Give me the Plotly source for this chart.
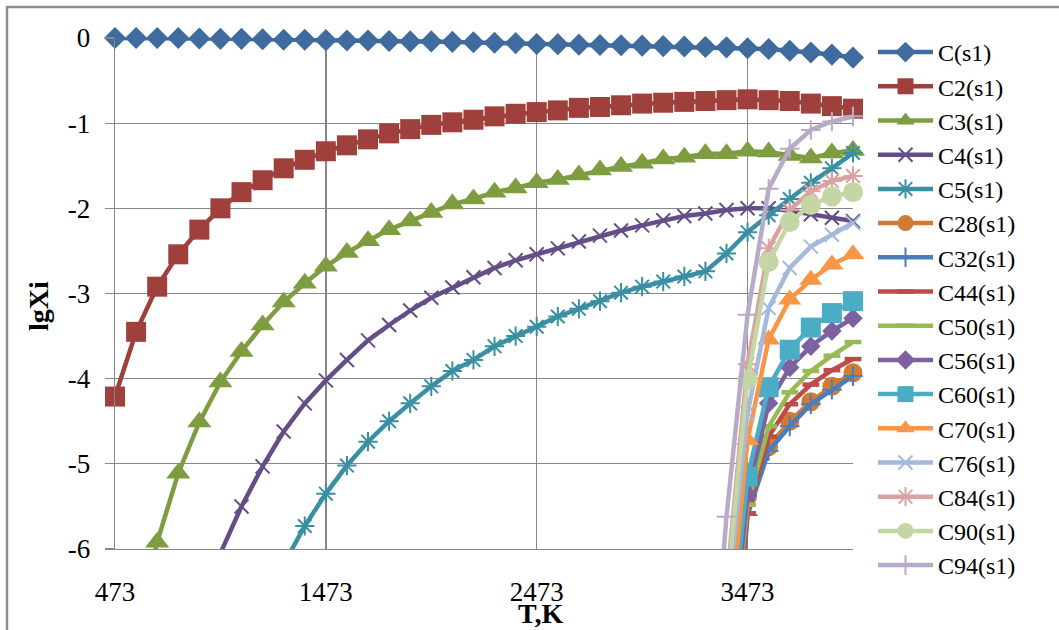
import plotly.graph_objects as go

# ---------------- data ----------------
T = [473, 573, 673, 773, 873, 973, 1073, 1173, 1273, 1373, 1473, 1573,
     1673, 1773, 1873, 1973, 2073, 2173, 2273, 2373, 2473, 2573, 2673, 2773,
     2873, 2973, 3073, 3173, 3273, 3373, 3473, 3573, 3673, 3773, 3873, 3973]

x_tick_vals = [473, 1473, 2473, 3473]
x_tick_text = ["473", "1473", "2473", "3473"]
y_tick_vals = [0, -1, -2, -3, -4, -5, -6]
y_tick_text = ["0", "-1", "-2", "-3", "-4", "-5", "-6"]

C_s1 = [0, 0, 0, 0, -0.005, -0.01, -0.01, -0.015, -0.02, -0.02, -0.025, -0.03,
        -0.03, -0.035, -0.04, -0.04, -0.045, -0.05, -0.055, -0.06, -0.07, -0.072,
        -0.078, -0.082, -0.086, -0.09, -0.095, -0.1, -0.105, -0.11, -0.12, -0.13,
        -0.15, -0.17, -0.195, -0.23]
C2 = [-4.21, -3.45, -2.92, -2.54, -2.25, -2.0, -1.81, -1.67, -1.53, -1.43, -1.33, -1.26,
      -1.19, -1.12, -1.07, -1.02, -0.99, -0.96, -0.92, -0.89, -0.87, -0.85, -0.82, -0.81,
      -0.79, -0.77, -0.76, -0.75, -0.74, -0.73, -0.72, -0.73, -0.74, -0.77, -0.80, -0.83]
C3 = [-8.2, -6.9, -5.92, -5.11, -4.51, -4.04, -3.68, -3.37, -3.10, -2.88, -2.68, -2.52,
      -2.38, -2.25, -2.15, -2.05, -1.95, -1.89, -1.81, -1.76, -1.70, -1.66, -1.61, -1.55,
      -1.51, -1.47, -1.42, -1.40, -1.36, -1.36, -1.33, -1.34, -1.38, -1.41, -1.35, -1.32]
C4 = [-10.5, -9.3, -8.3, -7.45, -6.7, -6.05, -5.5, -5.03, -4.62, -4.29, -4.02, -3.78,
      -3.55, -3.37, -3.20, -3.05, -2.93, -2.81, -2.70, -2.61, -2.54, -2.47, -2.39, -2.32,
      -2.26, -2.20, -2.14, -2.09, -2.06, -2.02, -2.00, -2.00, -2.03, -2.07, -2.11, -2.15]
C5 = [-13.5, -12.0, -10.8, -9.7, -8.8, -8.0, -7.3, -6.7, -6.18, -5.73, -5.35, -5.02,
      -4.74, -4.50, -4.29, -4.09, -3.91, -3.78, -3.62, -3.50, -3.39, -3.27, -3.18, -3.09,
      -2.99, -2.92, -2.86, -2.80, -2.74, -2.53, -2.28, -2.08, -1.89, -1.70, -1.53, -1.35]
_pad = [None] * 28
C28 = _pad + [-12.0, -8.92, -5.38, -4.80, -4.50, -4.27, -4.09, -3.93]
C32 = _pad + [-12.0, -8.73, -5.60, -4.85, -4.56, -4.30, -4.13, -3.97]
C44 = _pad + [-11.0, -7.98, -5.58, -4.68, -4.30, -4.07, -3.90, -3.77]
C50 = _pad + [-10.8, -7.81, -5.48, -4.56, -4.16, -3.91, -3.73, -3.57]
C56 = _pad + [-10.6, -7.73, -5.36, -4.29, -3.87, -3.62, -3.44, -3.29]
C60 = _pad + [-10.3, -7.48, -5.15, -4.10, -3.66, -3.40, -3.23, -3.09]
C70 = _pad + [-10.0, -7.24, -4.72, -3.54, -3.07, -2.84, -2.66, -2.54]
C76 = _pad + [-9.5, -6.70, -4.40, -3.17, -2.70, -2.45, -2.31, -2.17]
C84 = _pad + [-9.2, -6.42, -3.83, -2.47, -2.02, -1.80, -1.68, -1.62]
C90 = _pad + [-9.4, -6.53, -4.01, -2.63, -2.16, -1.96, -1.86, -1.81]
C94 = _pad + [-8.7, -5.62, -3.25, -1.77, -1.30, -1.08, -0.98, -0.92]

names = ["C(s1)", "C2(s1)", "C3(s1)", "C4(s1)", "C5(s1)", "C28(s1)", "C32(s1)",
         "C44(s1)", "C50(s1)", "C56(s1)", "C60(s1)", "C70(s1)", "C76(s1)",
         "C84(s1)", "C90(s1)", "C94(s1)"]
values = [C_s1, C2, C3, C4, C5, C28, C32, C44, C50, C56, C60, C70, C76, C84, C90, C94]

# ---------------- styles ----------------
colors = ["#3F6B9E", "#A0403D", "#7E9C40", "#654E88", "#3A8FA3", "#D07A34", "#4A7EBB",
          "#BE4B48", "#98B954", "#7D60A0", "#4BACC6", "#F79646", "#A5B9DA",
          "#D9A3A2", "#C3D6A4", "#B7ABC8"]
symbols = ["diamond", "square", "triangle-up", "x-thin", "asterisk", "circle", "cross-thin",
           "line-ew", "line-ew", "diamond", "square", "triangle-up", "x-thin",
           "asterisk", "circle", "cross-thin"]
sizes = [17, 20, 21, 14, 16, 19, 14, 12, 12, 15, 20, 20, 14, 16, 20, 14]
open_symbols = {"x-thin", "asterisk", "cross-thin", "line-ew"}

FONT = "Times New Roman, Liberation Serif, serif"
GRID = "#878787"

fig = go.Figure()

for name, vals, col, sym, sz in zip(names, values, colors, symbols, sizes):
    is_open = sym in open_symbols
    lw = 4.5 if sym == "line-ew" else 2
    op = [1 if (v is not None and v >= -6) else 0 for v in vals]
    fig.add_trace(go.Scatter(
        x=T, y=vals, mode="lines+markers", name=name, showlegend=False,
        line=dict(color=col, width=4.5),
        marker=dict(symbol=sym, size=sz, color=col, opacity=op,
                    line=dict(width=lw if is_open else 0, color=col)),
        cliponaxis=False, hoverinfo="skip"))

for name, col, sym, sz in zip(names, colors, symbols, sizes):
    is_open = sym in open_symbols
    lw = 4.5 if sym == "line-ew" else 2
    fig.add_trace(go.Scatter(
        x=[None], y=[None], mode="lines+markers", name=name, showlegend=True,
        line=dict(color=col, width=4.5),
        marker=dict(symbol=sym, size=min(sz, 18), color=col,
                    line=dict(width=lw if is_open else 0, color=col))))

L, R, TOP, BOT = 115, 853, 38, 549
W, H = 1059, 630
pw, ph = R - L, BOT - TOP

def px_x(px):
    return (px - L) / pw

def px_y(py):
    return (BOT - py) / ph

fig.update_layout(
    width=W, height=H,
    margin=dict(l=L, r=W - R, t=TOP, b=H - BOT, autoexpand=False),
    paper_bgcolor="white", plot_bgcolor="white",
    font=dict(family=FONT, color="black", size=27),
    legend=dict(
        xref="container", yref="container",
        x=873 / W, y=1 - 30 / H, xanchor="left", yanchor="top",
        font=dict(family=FONT, size=24, color="black"),
        bgcolor="rgba(0,0,0,0)", borderwidth=0, itemwidth=55,
        maxheight=600,
    ),
    xaxis=dict(
        range=[473, 3973], tickmode="array", tickvals=x_tick_vals, ticktext=x_tick_text,
        showgrid=True, gridcolor=GRID, gridwidth=1.3, zeroline=False,
        showline=True, linecolor=GRID, linewidth=1.3, ticks="",
        ticklabelstandoff=18,
        tickfont=dict(family=FONT, size=27, color="black"), fixedrange=True,
    ),
    yaxis=dict(
        range=[-6, 0], tickmode="array", tickvals=y_tick_vals, ticktext=y_tick_text,
        showgrid=True, gridcolor=GRID, gridwidth=1.3, zeroline=False,
        showline=True, linecolor=GRID, linewidth=1.3,
        ticks="outside", ticklen=9, tickcolor=GRID, tickwidth=1.3,
        ticklabelstandoff=9,
        tickfont=dict(family=FONT, size=27, color="black"), fixedrange=True,
    ),
    annotations=[
        dict(text="<b>lgXi</b>", xref="paper", yref="paper",
             x=px_x(38), y=px_y(306), textangle=-90, showarrow=False,
             xanchor="center", yanchor="middle",
             font=dict(family=FONT, size=28, color="black")),
        dict(text="<b>T,K</b>", xref="paper", yref="paper",
             x=px_x(541), y=px_y(613), showarrow=False,
             xanchor="center", yanchor="middle",
             font=dict(family=FONT, size=28, color="black")),
    ],
    shapes=[
        dict(type="rect", xref="paper", yref="paper",
             x0=px_x(7), x1=px_x(1200), y0=px_y(800), y1=px_y(7),
             line=dict(color="#8E8E8E", width=2.5), fillcolor="rgba(0,0,0,0)",
             layer="below"),
    ],
)

fig.write_html("out.html",
               config={"displayModeBar": False, "staticPlot": True},
               post_script="document.body.style.margin='0';document.body.style.overflow='hidden';")
